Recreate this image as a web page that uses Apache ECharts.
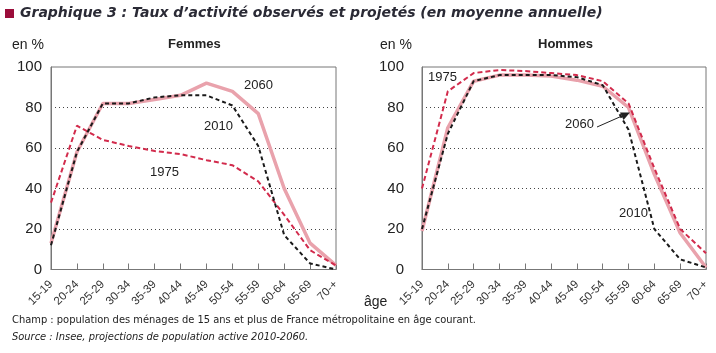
<!DOCTYPE html>
<html>
<head>
<meta charset="utf-8">
<script src="https://cdn.jsdelivr.net/npm/echarts@6/dist/echarts.min.js"></script>
<style>
  html, body { margin: 0; padding: 0; background: #fff; }
  #chart { width: 716px; height: 353px; }
</style>
</head>
<body>
<div id="chart"></div>
<script>
const ages = ["15-19", "20-24", "25-29", "30-34", "35-39", "40-44", "45-49", "50-54", "55-59", "60-64", "65-69", "70-+"];
const yTicks = [0, 20, 40, 60, 80, 100];

// Femmes
const femmes2060 = [13, 58, 82, 82, 84, 86, 92, 88, 77, 40, 13, 2];
const femmes2010 = [12, 58, 82, 82, 85, 86, 86, 81, 61, 17, 3, 0];
const femmes1975 = [33, 71, 64, 61, 58.5, 57, 54, 51.5, 43.5, 27, 9.5, 2];

// Hommes
const hommes2060 = [19, 70, 93, 96, 96, 95.5, 93.5, 90.5, 80, 47, 18, 1];
const hommes2010 = [20, 67, 93, 96, 96, 96, 95, 91, 69, 20, 5, 1];
const hommes1975 = [40, 88, 97, 98.5, 98, 97, 96, 93, 82, 50, 20, 8];

const chart = echarts.init(document.getElementById("chart"));

const grids = [
  { left: 51, right: 380, top: 67, bottom: 83.5 },
  { left: 422, right: 10, top: 67, bottom: 83.5 }
];

const xAxisBase = (i) => ({
  type: "category",
  gridIndex: i,
  data: ages,
  boundaryGap: false,
  axisLine: { lineStyle: { color: "#777", width: 1 } },
  axisTick: { show: true, inside: true, length: 6, lineStyle: { color: "#777" } },
  axisLabel: { rotate: 45, fontSize: 11.5, color: "#333", margin: 13, interval: 0, fontFamily: "Liberation Sans" },
  splitLine: { show: false }
});

const yAxisBase = (i) => ({
  type: "value",
  gridIndex: i,
  min: yTicks[0],
  max: yTicks[yTicks.length - 1],
  interval: 20,
  axisLine: { show: true, lineStyle: { color: "#777" } },
  axisTick: { show: false },
  axisLabel: { fontSize: 15, color: "#222", margin: i === 0 ? 9 : 18, fontFamily: "Liberation Sans" },
  splitLine: {
    show: true,
    showMinLine: false,
    showMaxLine: false,
    lineStyle: { color: "#444", type: [1, 3], width: 1 }
  }
});

const line = (name, data, i, kind) => {
  const s = { name: name, type: "line", xAxisIndex: i, yAxisIndex: i, data: data, symbol: "none", silent: true };
  if (kind === "pink") s.lineStyle = { color: "#E9A2AC", width: 3.5 };
  if (kind === "red") s.lineStyle = { color: "#D22B4C", width: 2, type: [5, 3] };
  if (kind === "black") s.lineStyle = { color: "#1a1a1a", width: 2, type: [4, 3] };
  return s;
};

const txt = (x, y, text, extra) => ({
  type: "text", left: x, top: y, z: 100,
  style: Object.assign({ text: text, fill: "#222", font: "14px 'Liberation Sans'" }, extra || {})
});

const option = {
  animation: false,
  backgroundColor: "#fff",
  grid: grids.map(g => Object.assign({ show: true, borderColor: "#777", borderWidth: 1 }, g)),
  xAxis: [xAxisBase(0), xAxisBase(1)],
  yAxis: [yAxisBase(0), yAxisBase(1)],
  series: [
    line("2060", femmes2060, 0, "pink"),
    line("1975", femmes1975, 0, "red"),
    line("2010", femmes2010, 0, "black"),
    line("2060", hommes2060, 1, "pink"),
    line("1975", hommes1975, 1, "red"),
    line("2010", hommes2010, 1, "black")
  ],
  graphic: [
    { type: "rect", shape: { x: 5, y: 9, width: 9, height: 9 }, style: { fill: "#9B0D3A" } },
    txt(20, 6, "Graphique 3 : Taux d\u2019activité observés et projetés (en moyenne annuelle)",
      { font: "italic bold 14px 'DejaVu Sans'", fill: "#2a2a35" }),
    txt(12, 38, "en %", { font: "14px 'Liberation Sans'" }),
    txt(380, 38, "en %", { font: "14px 'Liberation Sans'" }),
    txt(168, 38, "Femmes", { font: "bold 13px 'Liberation Sans'" }),
    txt(538, 38, "Hommes", { font: "bold 13px 'Liberation Sans'" }),
    // annotations Femmes
    txt(244, 79, "2060", { font: "13px 'Liberation Sans'" }),
    txt(204, 120, "2010", { font: "13px 'Liberation Sans'" }),
    txt(150, 166, "1975", { font: "13px 'Liberation Sans'" }),
    // annotations Hommes
    txt(428, 71, "1975", { font: "13px 'Liberation Sans'" }),
    txt(565, 118, "2060", { font: "13px 'Liberation Sans'" }),
    txt(619, 207, "2010", { font: "13px 'Liberation Sans'" }),
    { type: "line", z: 100, shape: { x1: 597, y1: 127, x2: 622, y2: 116 }, style: { stroke: "#222", lineWidth: 1 } },
    { type: "polygon", z: 100, shape: { points: [[630, 112.5], [620, 112.5], [623.5, 120]] }, style: { fill: "#222" } },
    txt(364, 295, "âge", { font: "14px 'Liberation Sans'" }),
    txt(12, 315, "Champ : population des ménages de 15 ans et plus de France métropolitaine en âge courant.",
      { font: "11px 'DejaVu Sans Condensed', 'DejaVu Sans'" }),
    txt(12, 332, "Source : Insee, projections de population active 2010-2060.",
      { font: "italic 11px 'DejaVu Sans Condensed', 'DejaVu Sans'" })
  ]
};

chart.setOption(option);
</script>
</body>
</html>
